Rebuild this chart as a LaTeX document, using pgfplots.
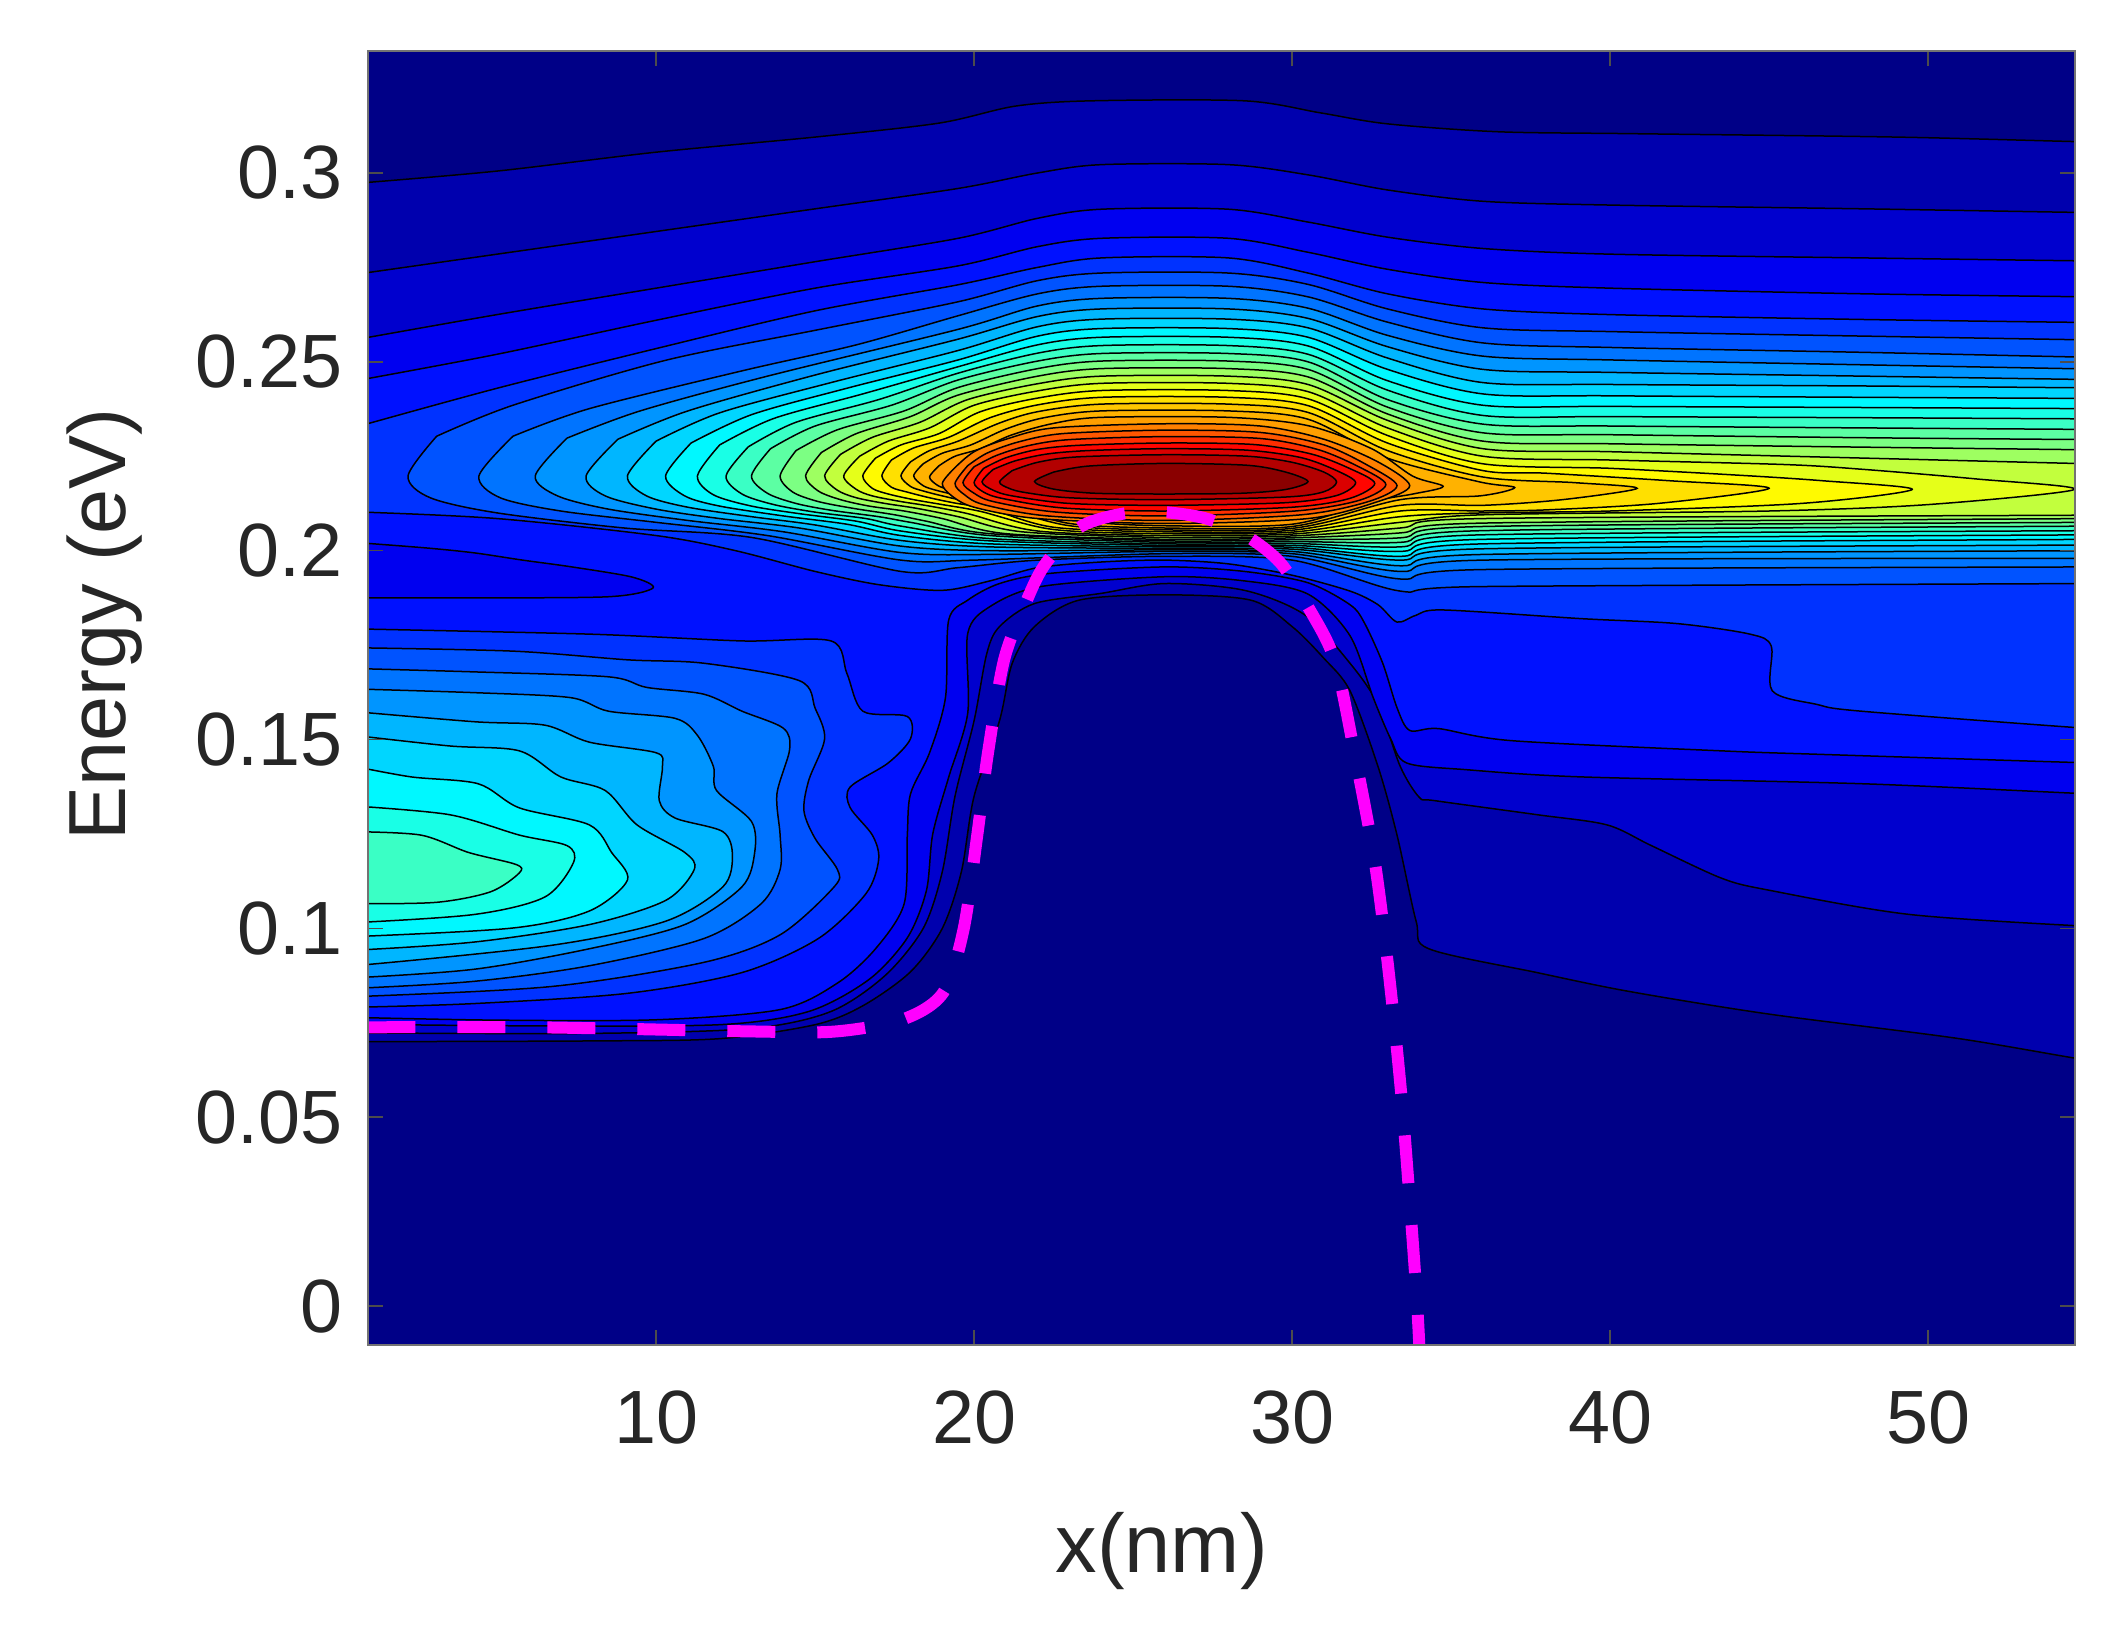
\documentclass[border=0pt]{standalone}
\usepackage{fontspec}
\setmainfont{Liberation Sans}
\usepackage{pgfplots}
\pgfplotsset{compat=1.18}
\pgfplotsset{colormap={jet}{rgb255(0cm)=(0,0,128) rgb255(1cm)=(0,0,255) rgb255(3cm)=(0,255,255) rgb255(5cm)=(255,255,0) rgb255(7cm)=(255,0,0) rgb255(8cm)=(128,0,0)}}
\definecolor{txt}{gray}{0.15}
\definecolor{navy0}{rgb}{0,0,0.53}
\definecolor{edge}{rgb}{1,0,1}
% one filled contour: colour value on jet (0-1000), then the closed outline
\newcommand{\lev}[2]{\addplot[forget plot,smooth,tension=0.5,line width=0.3pt,color of colormap={#1 of jet},fill=.,draw=black] coordinates {#2};}
\begin{document}
\begin{tikzpicture}
\path[use as bounding box] (-73.6pt,-59pt) rectangle (349pt,269pt);
\begin{axis}[
  at={(0,0)},anchor=south west,
  scale only axis,width=341.4pt,height=258.8pt,
  xmin=0.94,xmax=54.62,ymin=-0.0103,ymax=0.3323,
  axis on top=true,
  xtick={10,20,30,40,50},xticklabels={10,20,30,40,50},
  ytick={0,0.05,0.1,0.15,0.2,0.25,0.3},yticklabels={0,0.05,0.1,0.15,0.2,0.25,0.3},
  tick pos=both,xticklabel pos=lower,yticklabel pos=left,
  tick align=inside,major tick length=3pt,
  tick style={draw=black!70,line width=0.3pt},
  axis line style={draw=black!55,line width=0.3pt},
  ticklabel style={font=\fontsize{15.1}{16}\selectfont,text=txt},
  xticklabel style={yshift=-5.6pt},
  yticklabel style={xshift=-1.6pt},
  xlabel={x(nm)},ylabel={Energy (eV)},
  xlabel style={at={(axis description cs:0.465,0)},anchor=center,yshift=-41.2pt,font=\fontsize{16.6}{18}\selectfont,text=txt},
  ylabel style={at={(axis description cs:0,0.557)},anchor=center,yshift=52.6pt,font=\fontsize{16.2}{18}\selectfont,text=txt},
]
% background
\addplot[forget plot,draw=none,fill=navy0] coordinates {(0,-0.02)(56,-0.02)(56,0.34)(0,0.34)(0,-0.02)};
% outer levels, whole picture
\lev{45}{(0.5,0.2972)(5,0.3005)(10,0.3055)(15,0.3095)(18.9,0.3132)(21.3,0.3177)(23.7,0.3191)(28.5,0.3191)(30.9,0.3159)(33,0.313)(36.5,0.3109)(40.7,0.3104)(49,0.3095)(55.1,0.3082)(56,0.3082)(57,0.3082)(57,0.0650)(56,0.0650)(55.1,0.0650)(50.9,0.0709)(45,0.0773)(40.6,0.0833)(37.7,0.0883)(34.3,0.0946)(33.9,0.1019)(33.3,0.1247)(32.7,0.1429)(31.82,0.1629)(31,0.1715)(30,0.1799)(28.7,0.1869)(26,0.1883)(23.3,0.1869)(21.9,0.1799)(21.2,0.1702)(20.8,0.155)(20,0.135)(19.6,0.115)(19,0.1)(18,0.0885)(16.5,0.0795)(15,0.0745)(12,0.0708)(8,0.0702)(0.5,0.0700)(-0.5,0.0700)(-1.5,0.0700)(-1.5,0.2972)(-0.5,0.2972)(0.5,0.2972)}
\lev{77}{(0.5,0.2731)(5,0.2785)(10,0.2845)(15,0.2905)(19.5,0.2959)(22,0.3000)(24,0.3022)(28,0.3022)(30.5,0.2995)(33,0.2955)(36,0.2925)(40,0.2915)(48,0.2905)(55.1,0.2895)(56,0.2895)(57,0.2895)(57,0.1005)(56,0.1005)(55.1,0.1005)(49.4,0.1037)(45,0.1101)(43.5,0.1133)(41.3,0.1219)(39.9,0.1274)(37.7,0.1301)(34.5,0.1338)(34,0.1347)(33.4,0.1429)(32.7,0.1593)(31.82,0.1702)(30.4,0.1830)(28.5,0.1895)(26,0.1913)(24,0.1887)(21.9,0.1860)(20.8,0.1799)(20.4,0.1728)(20,0.155)(19.4,0.135)(19,0.115)(18.4,0.1)(17.2,0.0875)(15.5,0.078)(13,0.0735)(8,0.0722)(0.5,0.0723)(-0.5,0.0723)(-1.5,0.0723)(-1.5,0.2731)(-0.5,0.2731)(0.5,0.2731)}
\lev{110}{(0.5,0.2558)(5,0.2625)(10,0.2695)(15,0.2765)(19.5,0.2827)(22,0.2880)(24,0.2904)(28,0.2904)(30.5,0.2870)(33,0.2830)(36,0.2800)(40,0.2785)(48,0.2775)(55.1,0.2767)(56,0.2767)(57,0.2767)(57,0.1356)(56,0.1356)(55.1,0.1356)(47.9,0.1383)(39.1,0.1401)(35.5,0.1420)(33.6,0.1438)(33.1,0.1502)(32.55,0.1611)(31.82,0.1775)(30.5,0.1885)(28.5,0.1920)(26,0.1931)(22.1,0.1905)(20.5,0.1852)(19.8,0.1781)(19.8,0.157)(19.2,0.14)(18.7,0.125)(18.5,0.11)(17.9,0.0975)(16.7,0.0865)(14.8,0.078)(12,0.0745)(6,0.0742)(0.5,0.0746)(-0.5,0.0746)(-1.5,0.0746)(-1.5,0.2558)(-0.5,0.2558)(0.5,0.2558)}
\lev{142}{(0.5,0.2449)(5,0.2520)(10,0.2610)(15,0.2695)(19.5,0.2754)(22,0.2805)(24,0.2827)(28,0.2827)(30.5,0.2790)(33,0.2745)(36,0.2710)(40,0.2695)(48,0.2680)(55.1,0.2672)(56,0.2672)(57,0.2672)(57,0.1438)(56,0.1438)(55.1,0.1438)(46.5,0.1461)(43.5,0.1470)(36.9,0.1497)(34.6,0.1529)(33.7,0.1524)(33.3,0.1584)(32.85,0.1702)(32.26,0.1811)(31.82,0.1857)(30.5,0.1915)(28.5,0.1945)(26,0.1957)(22.4,0.194)(20.8,0.1913)(19.8,0.1869)(19.2,0.1816)(19.1,0.1611)(18.6,0.1465)(18,0.1356)(17.9,0.1247)(17.8,0.1065)(16.9,0.0946)(15.7,0.0855)(13.9,0.0785)(10,0.0758)(5,0.0757)(0.5,0.0764)(-0.5,0.0764)(-1.5,0.0764)(-1.5,0.2449)(-0.5,0.2449)(0.5,0.2449)}
% dark patch at the left
\lev{110}{(0.5,0.2022)(2.8,0.2007)(4.3,0.1994)(5.8,0.1975)(7.35,0.1957)(9.25,0.1930)(9.9,0.1901)(8.5,0.1878)(4,0.1875)(0.5,0.1875)(-0.5,0.1875)(-1.5,0.1875)(-1.5,0.2022)(-0.5,0.2022)(0.5,0.2022)}
% upper level 5
\lev{174}{(0.5,0.2326)(5,0.2430)(10,0.2535)(15,0.2635)(19.5,0.2704)(22,0.2750)(24,0.2775)(28,0.2775)(30.5,0.2735)(33,0.2680)(36,0.2640)(40,0.2625)(48,0.2612)(55.1,0.2604)(56,0.2604)(57,0.2604)(57,0.1529)(56,0.1529)(55.1,0.1529)(47.9,0.1575)(46.5,0.1593)(45.1,0.1629)(45.07,0.1747)(44.4,0.1779)(42.1,0.1807)(39.1,0.1820)(34.75,0.1843)(33.9,0.1829)(33.3,0.1811)(32.7,0.1857)(31.82,0.1893)(30,0.1935)(28,0.1965)(26,0.1975)(24,0.1970)(22,0.1955)(20.5,0.192)(19,0.1895)(17,0.191)(15,0.1945)(12.5,0.2)(10,0.204)(5,0.2085)(0.5,0.2103)(-0.5,0.2103)(-1.5,0.2103)(-1.5,0.2326)(-0.5,0.2326)(0.5,0.2326)}
% left lobe
\lev{174}{(0.5,0.1793)(7.9,0.1779)(12.7,0.1761)(15.5,0.1761)(16,0.1675)(16.5,0.1575)(17.9,0.1561)(18,0.1502)(17.3,0.1438)(16.1,0.1374)(16.1,0.1320)(16.8,0.1247)(17,0.1183)(16.6,0.1092)(15.1,0.0973)(12.7,0.0883)(9.1,0.0828)(4.3,0.0801)(0.5,0.0791)(-0.5,0.0791)(-1.5,0.0791)(-1.5,0.1793)(-0.5,0.1793)(0.5,0.1793)}
\lev{206}{(0.5,0.1743)(5.5,0.1734)(9.1,0.1711)(11.5,0.1702)(14.5,0.1656)(15,0.1583)(15.3,0.1502)(14.8,0.1392)(14.65,0.1311)(15,0.1238)(15.7,0.1156)(15.6,0.1110)(13.9,0.0983)(11.5,0.0910)(6.7,0.0846)(0.5,0.0819)(-0.5,0.0819)(-1.5,0.0819)(-1.5,0.1743)(-0.5,0.1743)(0.5,0.1743)}
\lev{239}{(0.5,0.1688)(4.3,0.1679)(8.5,0.1666)(9.7,0.1638)(11.5,0.1620)(12.7,0.1575)(14,0.1530)(14.2,0.1474)(13.8,0.1356)(13.9,0.1247)(13.9,0.1156)(13.3,0.1065)(11.5,0.0973)(7.9,0.0901)(4.3,0.0860)(0.5,0.0841)(-0.5,0.0841)(-1.5,0.0841)(-1.5,0.1688)(-0.5,0.1688)(0.5,0.1688)}
\lev{271}{(0.5,0.1634)(4.3,0.1624)(7.3,0.1611)(8.5,0.1575)(10.6,0.1556)(11.3,0.1511)(11.8,0.1429)(11.9,0.1365)(13,0.1283)(13.1,0.1201)(12.7,0.1110)(10.9,0.1010)(7.9,0.0946)(4.3,0.0892)(0.5,0.0869)(-0.5,0.0869)(-1.5,0.0869)(-1.5,0.1634)(-0.5,0.1634)(0.5,0.1634)}
\lev{303}{(0.5,0.1574)(4.3,0.1547)(6.5,0.1538)(7.9,0.1493)(10,0.1465)(10.2,0.1429)(10.1,0.1338)(10.6,0.1292)(12.1,0.1256)(12.4,0.1192)(12.1,0.1110)(10.3,0.1019)(6.7,0.0955)(0.5,0.0901)(-0.5,0.0901)(-1.5,0.0901)(-1.5,0.1574)(-0.5,0.1574)(0.5,0.1574)}
\lev{335}{(0.5,0.1511)(3.5,0.1483)(5.7,0.1470)(7,0.1401)(8.4,0.1365)(9.4,0.1274)(10.9,0.1201)(11.2,0.1156)(10.3,0.1074)(7.9,0.1010)(4.3,0.0964)(0.5,0.0942)(-0.5,0.0942)(-1.5,0.0942)(-1.5,0.1511)(-0.5,0.1511)(0.5,0.1511)}
\lev{368}{(0.5,0.1429)(2.3,0.1401)(4.4,0.1383)(5.7,0.1319)(7.9,0.1274)(8.6,0.1201)(9.1,0.1128)(7.9,0.1046)(5.5,0.1001)(0.5,0.0978)(-0.5,0.0978)(-1.5,0.0978)(-1.5,0.1429)(-0.5,0.1429)(0.5,0.1429)}
\lev{400}{(0.5,0.1324)(3.5,0.1301)(5.7,0.1247)(7.2,0.1219)(7.4,0.1174)(6.5,0.1083)(4.3,0.1037)(0.5,0.1015)(-0.5,0.1015)(-1.5,0.1015)(-1.5,0.1324)(-0.5,0.1324)(0.5,0.1324)}
\lev{432}{(0.5,0.1256)(2.6,0.1247)(4.1,0.1201)(5.6,0.1169)(5.7,0.1147)(4.8,0.1097)(3.1,0.1069)(0.5,0.1065)(-0.5,0.1065)(-1.5,0.1065)(-1.5,0.1256)(-0.5,0.1256)(0.5,0.1256)}
% main band, levels 6 to 23
\lev{206}{(3.1,0.2303)(5.5,0.2385)(10.3,0.2504)(15.1,0.2585)(19.5,0.2659)(22,0.2715)(24,0.2735)(28,0.2735)(30.5,0.2705)(33,0.2640)(36,0.2590)(40,0.2580)(48,0.2568)(55.1,0.2558)(56,0.2558)(57,0.2558)(57,0.1913)(56,0.1913)(55.1,0.1913)(36,0.1905)(33.4,0.1893)(30,0.1975)(26,0.1985)(22,0.1975)(19.5,0.1955)(17.7,0.1945)(13,0.2035)(9,0.2060)(5,0.2100)(2.9,0.2140)(2.2,0.2198)(3.1,0.2303)}
\lev{239}{(5.5,0.2303)(7.9,0.2376)(12.7,0.2476)(16.3,0.2545)(19.5,0.2622)(22,0.2680)(24,0.2700)(28,0.2700)(30.5,0.2672)(33,0.2605)(36,0.2550)(40,0.2538)(48,0.2525)(55.1,0.2512)(56,0.2512)(57,0.2512)(57,0.1957)(56,0.1957)(55.1,0.1957)(36,0.1950)(33.4,0.1925)(30,0.1985)(26,0.1992)(20,0.1975)(17.7,0.1975)(13.5,0.2040)(10,0.2075)(7,0.2105)(5.1,0.2140)(4.43,0.2198)(5.5,0.2303)}
\lev{271}{(7.2,0.2298)(9.5,0.2370)(13.5,0.2462)(19.5,0.2586)(22,0.2648)(24,0.2668)(28,0.2668)(30.5,0.2642)(33,0.2570)(36,0.2515)(40,0.2505)(48,0.2492)(55.1,0.2481)(56,0.2481)(57,0.2481)(57,0.1980)(56,0.1980)(55.1,0.1980)(36,0.1975)(33.4,0.1945)(30,0.1992)(26,0.1998)(20.5,0.1990)(17.7,0.1995)(14,0.2050)(11,0.2080)(8.5,0.2110)(6.9,0.2145)(6.2,0.2198)(7.2,0.2298)}
\lev{303}{(8.8,0.2295)(11,0.2370)(15,0.2465)(19.5,0.2560)(22,0.2620)(24,0.2640)(28,0.2640)(30.5,0.2615)(33,0.2540)(36,0.2480)(40,0.2472)(48,0.2462)(55.1,0.2453)(56,0.2453)(57,0.2453)(57,0.2000)(56,0.2000)(55.1,0.2000)(36,0.1990)(33.4,0.1960)(30,0.1998)(26,0.2002)(20.5,0.2000)(17.7,0.2012)(14.5,0.2060)(12,0.2085)(10,0.2110)(8.4,0.2145)(7.8,0.2198)(8.8,0.2295)}
\lev{335}{(10,0.2290)(12,0.2365)(15.5,0.2445)(19.5,0.2530)(22,0.2593)(24,0.2613)(28,0.2613)(30.5,0.2590)(33,0.2510)(36,0.2445)(40,0.2440)(48,0.2436)(55.1,0.2431)(56,0.2431)(57,0.2431)(57,0.2015)(56,0.2015)(55.1,0.2015)(36,0.2005)(33.4,0.1975)(30,0.2004)(26,0.2006)(20.5,0.2010)(17.7,0.2027)(15,0.2068)(13,0.2090)(11,0.2115)(9.7,0.2145)(9.1,0.2198)(10,0.2290)}
\lev{368}{(11.1,0.2285)(13,0.2360)(16,0.2430)(19.5,0.2505)(22,0.2568)(24,0.2588)(28,0.2588)(30.5,0.2565)(33,0.2480)(36,0.2415)(40,0.2410)(48,0.2406)(55.1,0.2403)(56,0.2403)(57,0.2403)(57,0.2030)(56,0.2030)(55.1,0.2030)(36,0.2018)(33.4,0.1985)(30,0.2009)(26,0.2010)(20.5,0.2018)(17.7,0.2040)(16,0.2070)(14,0.2092)(12,0.2118)(10.9,0.2145)(10.3,0.2198)(11.1,0.2285)}
\lev{400}{(12,0.2280)(13.7,0.2350)(16.5,0.2415)(19.5,0.2487)(22,0.2545)(24,0.2565)(28,0.2565)(30.5,0.2542)(33,0.2450)(36,0.2385)(40,0.2382)(48,0.2379)(55.1,0.2376)(56,0.2376)(57,0.2376)(57,0.2042)(56,0.2042)(55.1,0.2042)(36,0.2030)(33.4,0.1998)(30,0.2014)(26,0.2014)(20.5,0.2026)(17.7,0.2052)(16.3,0.2078)(14.5,0.2098)(13,0.2118)(11.8,0.2148)(11.3,0.2198)(12,0.2280)}
\lev{432}{(12.9,0.2275)(14.4,0.2340)(17,0.2400)(19.5,0.2470)(22,0.2523)(24,0.2543)(28,0.2543)(30.5,0.2520)(33,0.2425)(36,0.2358)(40,0.2355)(48,0.2352)(55.1,0.2349)(56,0.2349)(57,0.2349)(57,0.2053)(56,0.2053)(55.1,0.2053)(36,0.2042)(33.4,0.2010)(30,0.2019)(26,0.2018)(20.5,0.2032)(17.7,0.2065)(16.6,0.2085)(15,0.2102)(13.7,0.2122)(12.7,0.2150)(12.2,0.2198)(12.9,0.2275)}
\lev{465}{(13.6,0.2270)(15,0.2330)(17.4,0.2385)(19.5,0.2452)(22,0.2502)(24,0.2522)(28,0.2522)(30.5,0.2500)(33,0.2400)(36,0.2335)(40,0.2330)(48,0.2325)(55.1,0.2321)(56,0.2321)(57,0.2321)(57,0.2065)(56,0.2065)(55.1,0.2065)(36,0.2053)(33.4,0.2022)(30,0.2024)(26,0.2022)(20.5,0.2040)(18,0.2075)(17,0.2090)(15.5,0.2107)(14.4,0.2125)(13.5,0.2152)(13,0.2198)(13.6,0.2270)}
\lev{497}{(14.4,0.2265)(15.7,0.2320)(17.8,0.2370)(19.5,0.2432)(22,0.2482)(24,0.2502)(28,0.2502)(30.5,0.2480)(33,0.2380)(36,0.2312)(40,0.2307)(48,0.2299)(55.1,0.2294)(56,0.2294)(57,0.2294)(57,0.2075)(56,0.2075)(55.1,0.2075)(36,0.2064)(33.4,0.2034)(30,0.2029)(26,0.2026)(20.5,0.2045)(18.5,0.2078)(17.5,0.2095)(16.2,0.2112)(15.1,0.2130)(14.3,0.2155)(13.9,0.2198)(14.4,0.2265)}
\lev{530}{(15.2,0.2260)(16.3,0.2310)(18,0.2355)(19.5,0.2412)(22,0.2462)(24,0.2482)(28,0.2482)(30.5,0.2460)(33,0.2362)(36,0.2290)(40,0.2283)(48,0.2274)(55.1,0.2267)(56,0.2267)(57,0.2267)(57,0.2085)(56,0.2085)(55.1,0.2085)(36,0.2073)(33.4,0.2047)(30,0.2034)(26,0.2030)(21,0.2045)(19,0.2085)(17.8,0.2105)(16.7,0.2118)(15.8,0.2135)(15.1,0.2158)(14.7,0.2198)(15.2,0.2260)}
\lev{565}{(15.8,0.2255)(16.8,0.2300)(18.3,0.2340)(19.8,0.2400)(22,0.2442)(24,0.2462)(28,0.2462)(30.5,0.2440)(33,0.2345)(36,0.2270)(40,0.2262)(48,0.2245)(55.1,0.2230)(56,0.2230)(57,0.2230)(57,0.2094)(56,0.2094)(55.1,0.2094)(36,0.2085)(33.4,0.2060)(30,0.2039)(26,0.2035)(21.5,0.2050)(19.5,0.2090)(18.2,0.2112)(17.2,0.2125)(16.3,0.2140)(15.7,0.2160)(15.3,0.2198)(15.8,0.2255)}
\lev{600}{(16.4,0.2250)(17.3,0.2290)(18.6,0.2325)(20,0.2385)(22,0.2423)(24,0.2443)(28,0.2443)(30.5,0.2421)(33,0.2325)(36,0.2250)(40,0.2240)(45.5,0.2228)(48,0.2215)(51.5,0.2190)(54.6,0.2162)(50,0.2122)(45,0.2105)(36,0.2095)(33.4,0.2075)(30,0.2044)(26,0.2040)(22,0.2052)(19.8,0.2098)(18.6,0.2118)(17.7,0.2130)(16.8,0.2145)(16.3,0.2162)(15.9,0.2198)(16.4,0.2250)}
\lev{630}{(16.9,0.2245)(17.7,0.2280)(18.9,0.2310)(20.2,0.2368)(22,0.2404)(24,0.2424)(28,0.2424)(30.5,0.2402)(33,0.2305)(36,0.2230)(40,0.2218)(44,0.2200)(46.7,0.2185)(49.5,0.2162)(46,0.2125)(40,0.2105)(36,0.2100)(33.4,0.2090)(30,0.2049)(26,0.2045)(22.5,0.2056)(20.2,0.2104)(19,0.2122)(18.1,0.2135)(17.3,0.2150)(16.8,0.2165)(16.5,0.2198)(16.9,0.2245)}
\lev{655}{(17.4,0.2240)(18.1,0.2272)(19.2,0.2300)(20.5,0.2352)(22,0.2386)(24,0.2406)(28,0.2406)(30.5,0.2384)(33,0.2285)(36,0.2212)(38,0.2205)(41.9,0.2185)(45,0.2165)(41.5,0.2125)(38,0.2108)(36,0.2105)(33.4,0.2105)(30,0.2054)(26,0.2050)(22.5,0.2062)(20.5,0.2110)(19.4,0.2126)(18.6,0.2140)(17.9,0.2155)(17.4,0.2168)(17.1,0.2198)(17.4,0.2240)}
\lev{680}{(18,0.2235)(18.6,0.2265)(19.5,0.2290)(20.8,0.2338)(22,0.2368)(24,0.2388)(28,0.2388)(30.5,0.2366)(33,0.2265)(36,0.2195)(38.9,0.2180)(40.85,0.2165)(38.5,0.2135)(36,0.2120)(33.4,0.2120)(30,0.2059)(26,0.2055)(23,0.2066)(20.8,0.2115)(19.8,0.2130)(19,0.2145)(18.4,0.2158)(18,0.2170)(17.7,0.2198)(18,0.2235)}
\lev{700}{(18.4,0.2230)(19,0.2258)(19.9,0.2280)(21,0.2322)(22.2,0.2352)(24,0.2370)(28,0.2370)(30.5,0.2348)(33,0.2245)(35.9,0.2182)(37,0.2167)(35.9,0.2145)(33.4,0.2135)(30,0.2064)(26,0.2060)(23,0.2072)(21,0.2122)(20.1,0.2135)(19.4,0.2148)(18.8,0.2160)(18.4,0.2172)(18.1,0.2198)(18.4,0.2230)}
\lev{720}{(18.9,0.2225)(19.4,0.2250)(20.2,0.2270)(21.2,0.2307)(22.5,0.2337)(24,0.2353)(28,0.2353)(30.5,0.2331)(32.5,0.2270)(33.8,0.2197)(34.75,0.2170)(33.8,0.2150)(32.5,0.2130)(30,0.2070)(26,0.2066)(23.5,0.2078)(21.5,0.2122)(20.5,0.2138)(19.8,0.2150)(19.2,0.2162)(18.85,0.2173)(18.6,0.2195)(18.9,0.2225)}
% peak rings
\lev{750}{(19.4,0.2220)(20,0.2262)(21,0.2295)(22.5,0.2325)(26,0.2336)(29,0.2330)(31,0.2295)(32.7,0.2235)(33.7,0.2172)(32.7,0.2130)(30.5,0.2085)(26,0.2072)(22,0.2085)(20,0.2115)(19.3,0.2145)(19,0.2178)(19.4,0.2220)}
\lev{790}{(19.8,0.2225)(20.4,0.2258)(21.4,0.2288)(22.8,0.2310)(26,0.2319)(29,0.2313)(31,0.2280)(32.4,0.2225)(33.3,0.2172)(32.4,0.2130)(30.3,0.2095)(26,0.2080)(22.3,0.2092)(20.3,0.2122)(19.7,0.2148)(19.4,0.2178)(19.8,0.2225)}
\lev{830}{(20,0.2222)(20.7,0.2252)(21.7,0.2278)(23,0.2294)(26,0.2302)(29,0.2297)(30.8,0.2268)(32.1,0.2222)(32.95,0.2175)(32.1,0.2133)(30.1,0.2105)(26,0.2092)(22.6,0.2102)(20.6,0.2130)(20,0.2152)(19.65,0.2180)(20,0.2222)}
\lev{870}{(20.3,0.2218)(21,0.2246)(22,0.2268)(23.3,0.2279)(26,0.2285)(28.8,0.2281)(30.6,0.2256)(31.8,0.2218)(32.6,0.2178)(31.8,0.2138)(30,0.2115)(26,0.2105)(22.8,0.2113)(20.9,0.2138)(20.3,0.2155)(20,0.2180)(20.3,0.2218)}
\lev{910}{(20.6,0.2215)(21.3,0.2238)(22.3,0.2256)(23.6,0.2265)(26,0.2270)(28.6,0.2266)(30.3,0.2246)(31.4,0.2212)(32,0.2180)(31.4,0.2146)(29.8,0.2127)(26,0.2120)(23,0.2125)(21.2,0.2145)(20.6,0.2160)(20.25,0.2182)(20.6,0.2215)}
\lev{950}{(21.2,0.2212)(22,0.2234)(23.2,0.2248)(26,0.2254)(28.6,0.2250)(30,0.2234)(31,0.2208)(31.4,0.2182)(31,0.2156)(29.8,0.2142)(26,0.2135)(23,0.2140)(21.6,0.2154)(21.1,0.2165)(20.8,0.2182)(21.2,0.2212)}
\lev{990}{(22.5,0.2208)(23.6,0.2224)(26,0.2231)(28.6,0.2226)(29.8,0.2208)(30.5,0.2183)(29.8,0.2162)(28.4,0.2152)(26,0.2150)(23.8,0.2152)(22.5,0.2163)(21.9,0.2183)(22.5,0.2208)}
% conduction band edge
\addplot[forget plot,smooth,tension=0.5,edge,line width=2.4pt,dash pattern=on 9.6pt off 8.4pt] coordinates {(0.92,0.0738)(6.3,0.0738)(13.1,0.0727)(15.64,0.0727)(17.76,0.0759)(19.03,0.0830)(19.67,0.0998)(20.1,0.1247)(20.43,0.1461)(20.94,0.1710)(21.58,0.1853)(22.2,0.1960)(23.28,0.2060)(24.55,0.2096)(25.82,0.2103)(27.3,0.2085)(28.58,0.2038)(29.64,0.1967)(30.49,0.1853)(31.34,0.1710)(31.97,0.1461)(32.6,0.1176)(33.03,0.0891)(33.46,0.0535)(33.88,0.0071)(34.0,-0.0103)};
\end{axis}
\end{tikzpicture}
\end{document}
